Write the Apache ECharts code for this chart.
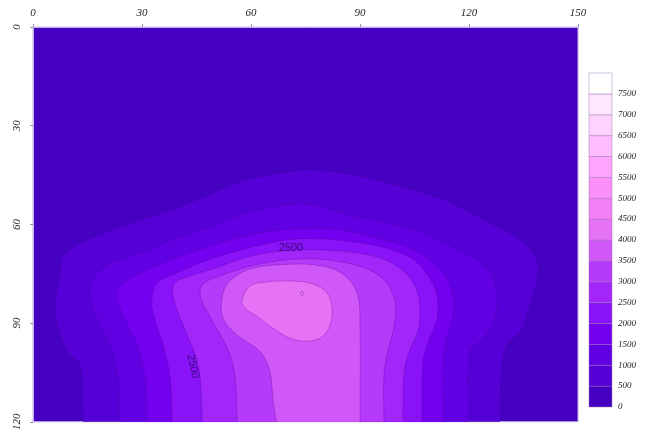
<!DOCTYPE html>
<html><head><meta charset="utf-8">
<script src="https://cdn.jsdelivr.net/npm/echarts@6/dist/echarts.min.js"></script>
<style>html,body{margin:0;padding:0;background:#fff}#c{width:649px;height:433px}</style>
</head><body><div id="c"></div>
<script>
// ---- data ----
const xTicks = [0, 30, 60, 90, 120, 150];
const yTicks = [0, 30, 60, 90, 120];
const levels = [0,500,1000,1500,2000,2500,3000,3500,4000,4500,5000,5500,6000,6500,7000,7500];
const bandColors = ['#4500c2','#5400d6','#6200e4','#7400f0','#8a12f8','#a226fa','#b63afa','#d058f8',
  '#e672f6','#f480f6','#fc90fa','#ffa4ff','#ffbcff','#ffd2ff','#ffe8ff','#ffffff'];
// contour boundaries (x, depth) - regions with value above the level
const c500 = [[13.8,120],[12.9,102.6],[9.4,98.7],[6.1,86.8],[7.4,74.8],[8.3,69.7],[12.9,65.8],[22.0,61.6],[29.5,58.6],[37.7,55.7],[46.8,51.8],[57.8,46.7],[68.8,44.3],[76.5,43.4],[90.8,45.5],[105.1,49.7],[114.8,53.3],[124.4,58.9],[134.0,64.6],[138.7,70.9],[138.7,76.6],[136.8,84.7],[134.0,92.8],[130.5,96.6],[129.1,102.6],[128.5,120]];
const c1000 = [[23.9,120],[23.4,106.5],[21.2,96.6],[17.6,88.6],[15.7,81.7],[16.5,76.6],[21.2,71.8],[29.5,68.8],[38.5,64.6],[48.7,60.7],[57.8,56.9],[68.8,54.2],[76.2,53.9],[86.4,56.9],[104.6,61.6],[115.6,66.7],[125.0,73.6],[127.7,81.7],[126.6,89.8],[123.9,94.6],[120.3,98.7],[120.0,120]];
const c1500 = [[31.4,120],[30.8,106.5],[28.6,96.6],[24.5,86.8],[23.1,81.7],[23.9,78.7],[29.5,74.8],[38.5,70.6],[48.7,66.7],[57.8,63.7],[68.8,61.6],[81.7,61.3],[95.5,64.3],[106.5,68.8],[112.9,74.8],[115.6,81.7],[115.3,89.2],[113.7,95.2],[112.9,100.2],[112.9,120]];
const c2000 = [[38.3,120],[37.7,106.5],[35.8,96.6],[33.0,86.8],[32.8,81.7],[34.1,77.8],[39.6,74.8],[48.7,70.6],[57.8,67.6],[70.7,64.6],[81.7,64.6],[95.5,66.7],[104.6,70.6],[109.3,76.6],[111.2,81.7],[111.2,88.6],[108.5,96.6],[107.3,101.7],[107.1,120]];
const c2500 = [[46.5,120],[46.0,106.5],[44.6,99.6],[41.3,90.7],[38.5,81.7],[39.1,77.8],[43.2,75.7],[50.1,73.3],[59.7,69.7],[71.3,67.9],[81.7,67.9],[94.1,69.7],[101.0,73.3],[105.1,78.7],[106.5,84.7],[106.0,92.2],[103.2,99.6],[102.1,105.6],[101.8,120]];
const c3000 = [[56.2,120],[55.6,106.5],[53.7,98.1],[49.3,89.2],[46.0,81.7],[46.8,78.1],[51.5,75.7],[59.7,72.7],[71.3,70.6],[81.7,70.9],[91.4,73.3],[96.9,77.2],[99.6,83.2],[99.4,90.7],[97.7,98.1],[96.6,105.6],[96.6,120]];
const c3500 = [[66.9,120],[66.1,113.7],[65.2,104.7],[62.5,98.7],[56.2,93.7],[52.3,88.6],[52.0,82.6],[53.7,77.8],[59.7,73.6],[70.7,72.1],[79.8,72.7],[85.3,75.1],[89.2,80.8],[90.0,90.7],[90.0,120]];
const c4000 = [[57.5,83.2],[59.7,78.7],[64.4,77.5],[70.7,77.2],[77.1,78.1],[80.9,80.8],[82.3,85.6],[81.7,90.7],[79.5,94.3],[75.4,95.5],[70.7,94.6],[66.1,91.6],[61.7,88.0],[58.4,85.6]];
const contours = [
  {level: 500, pts: c500, open: true},
  {level: 1000, pts: c1000, open: true},
  {level: 1500, pts: c1500, open: true},
  {level: 2000, pts: c2000, open: true},
  {level: 2500, pts: c2500, open: true},
  {level: 3000, pts: c3000, open: true},
  {level: 3500, pts: c3500, open: true},
  {level: 4000, pts: c4000, open: false}
];
const contourLabels = [
  {text: '2500', x: 71.0, y: 67.3, rot: 0, size: 11},
  {text: '2500', x: 44.0, y: 103.2, rot: -78, size: 11},
  {text: '0', x: 74.0, y: 81.3, rot: 0, size: 7}
];

// ---- chart ----
const chart = echarts.init(document.getElementById('c'), null, {renderer: 'canvas'});
const serif = '"Liberation Serif","Times New Roman",serif';
function bandColor(level) { return bandColors[levels.indexOf(level)]; }

const option = {
  animation: false,
  backgroundColor: '#ffffff',
  grid: [
    {left: 33, top: 27, width: 545, height: 401, show: true, backgroundColor: bandColors[0], borderColor: '#c4b4e4', borderWidth: 1},
    {left: 589, top: 73, width: 23, height: 334, show: false}
  ],
  xAxis: [
    {gridIndex: 0, type: 'value', position: 'top', min: 0, max: 150, interval: 30,
     axisLine: {show: true, lineStyle: {color: '#c4b4e4'}},
     axisTick: {show: true, length: 3, lineStyle: {color: '#9a8ab8'}},
     axisLabel: {fontFamily: serif, fontStyle: 'italic', fontSize: 11, color: '#222', margin: 8},
     splitLine: {show: false}},
    {gridIndex: 1, type: 'value', min: 0, max: 1, show: false}
  ],
  yAxis: [
    {gridIndex: 0, type: 'value', inverse: true, min: 0, max: 120, interval: 30,
     axisLine: {show: true, lineStyle: {color: '#c4b4e4'}},
     axisTick: {show: true, length: 3, lineStyle: {color: '#9a8ab8'}},
     axisLabel: {fontFamily: serif, fontStyle: 'italic', fontSize: 11, color: '#222', rotate: 90, margin: 10},
     splitLine: {show: false}},
    {gridIndex: 1, type: 'value', position: 'right', min: 0, max: 8000, interval: 500,
     axisLine: {show: false}, axisTick: {show: false}, splitLine: {show: false},
     axisLabel: {fontFamily: serif, fontStyle: 'italic', fontSize: 9, color: '#222', margin: 6,
       formatter: v => (v >= 8000 ? '' : String(v))}}
  ],
  series: [
    {
      type: 'custom', xAxisIndex: 0, yAxisIndex: 0, clip: true, silent: true,
      data: contours.map((c, i) => [i]),
      renderItem: function (params, api) {
        const c = contours[params.dataIndex];
        const pts = c.pts.map(p => api.coord(p));
        if (c.open) {
          const first = pts[0], last = pts[pts.length - 1];
          pts.push([last[0], last[1] + 15]);
          pts.unshift([first[0], first[1] + 15]);
        }
        return {
          type: 'polygon',
          shape: {points: pts, smooth: 0.35},
          style: {fill: bandColor(c.level), stroke: 'rgba(70,0,130,0.35)', lineWidth: 0.8}
        };
      }
    },
    {
      type: 'custom', xAxisIndex: 0, yAxisIndex: 0, silent: true,
      data: contourLabels.map((c, i) => [c.x, c.y]),
      renderItem: function (params, api) {
        const l = contourLabels[params.dataIndex];
        const p = api.coord([l.x, l.y]);
        return {
          type: 'text', x: p[0], y: p[1], rotation: l.rot * Math.PI / 180,
          style: {text: l.text, x: 0, y: 0, align: 'center', verticalAlign: 'middle',
                  font: l.size + 'px "Liberation Sans", Arial, sans-serif',
                  fill: l.size < 9 ? 'rgba(120,50,160,0.7)' : 'rgba(45,10,100,0.85)'}
        };
      }
    },
    {
      type: 'custom', xAxisIndex: 1, yAxisIndex: 1, silent: true,
      data: levels.map((lv, i) => [lv]),
      renderItem: function (params, api) {
        const lv = levels[params.dataIndex];
        const top = lv + 500;
        const p0 = api.coord([0, lv]);
        const p1 = api.coord([1, top]);
        return {
          type: 'rect',
          shape: {x: p0[0], y: p1[1], width: p1[0] - p0[0], height: p0[1] - p1[1]},
          style: {fill: bandColors[params.dataIndex], stroke: 'rgba(150,110,170,0.55)', lineWidth: 0.8}
        };
      }
    }
  ]
};
chart.setOption(option);
</script>
</body></html>
